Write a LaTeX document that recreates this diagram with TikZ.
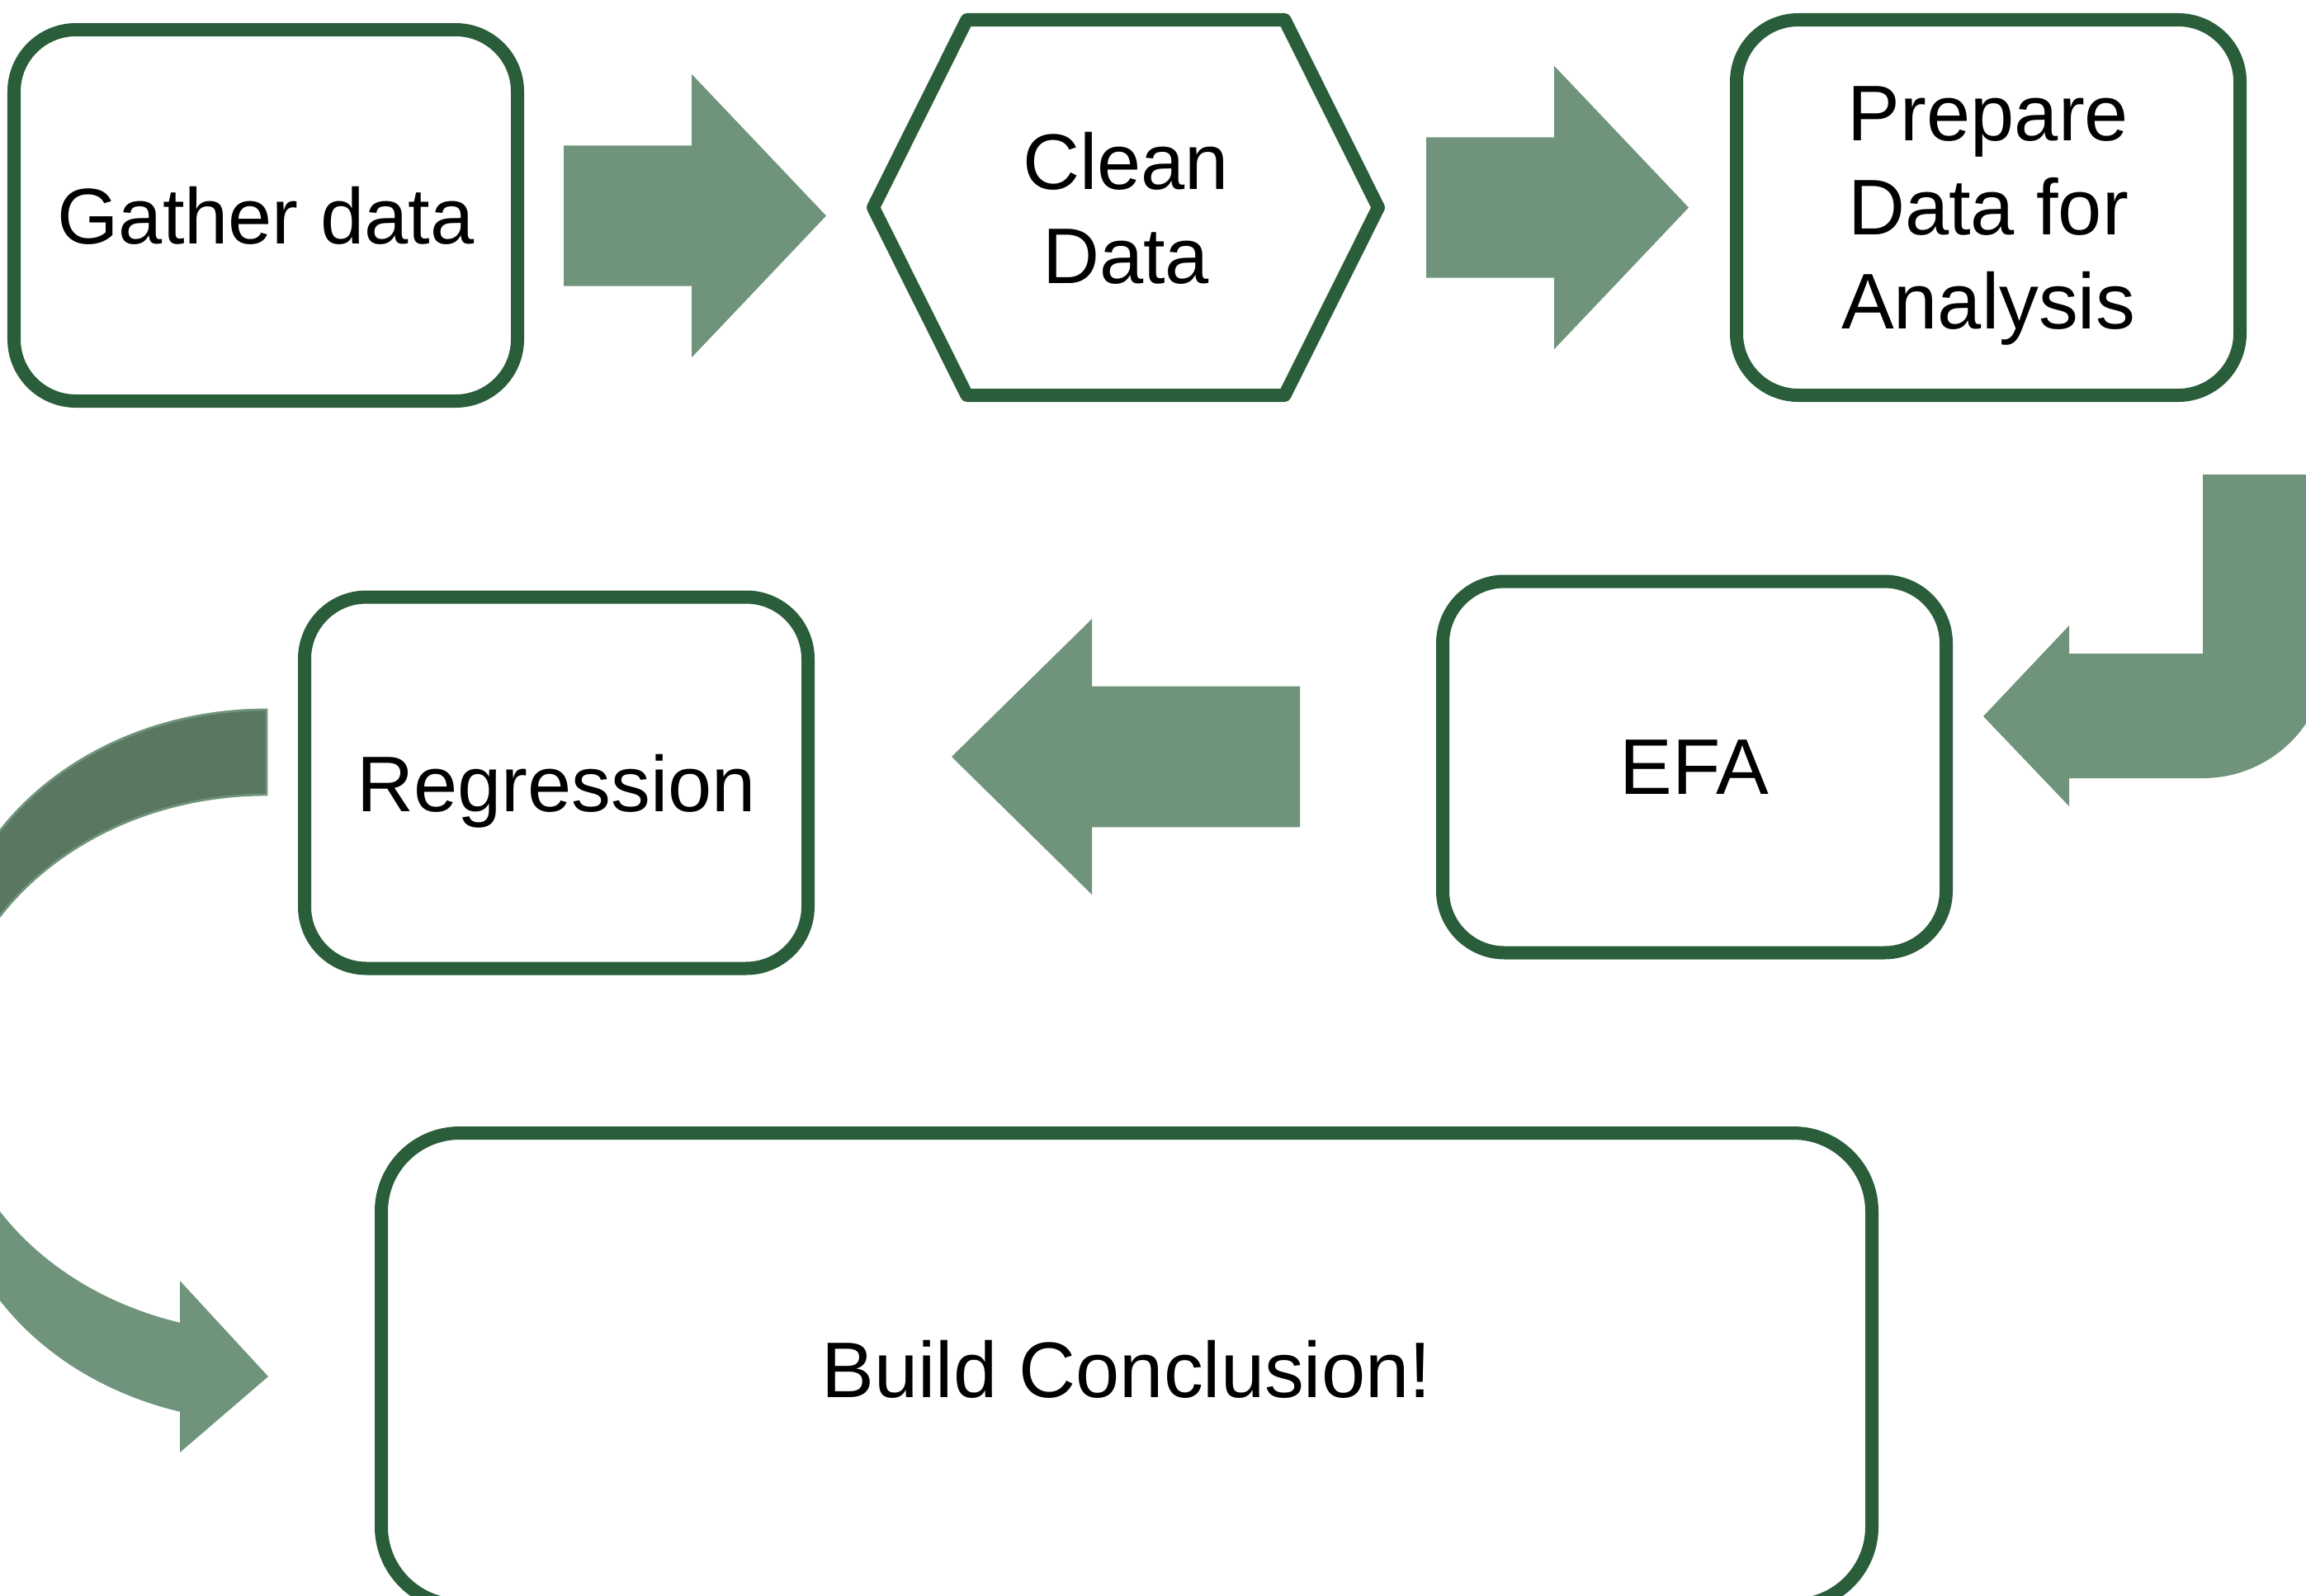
\documentclass[tikz,border=0pt]{standalone}
\definecolor{flowGreen}{HTML}{2A5E3B}
\definecolor{flowArrow}{HTML}{6F947B}
\definecolor{flowBack}{HTML}{5A7762}
\usepackage{fontspec}
\setmainfont{Liberation Sans}
\usetikzlibrary{shapes.arrows, positioning, calc}
\newcommand{\stagefont}{\fontsize{27.2}{32.4}\selectfont}

\begin{document}
\begin{tikzpicture}[
  stage/.style={draw=flowGreen, line width=0.16cm, rounded corners=0.75cm,
    minimum width=6.1cm, minimum height=4.5cm, align=center, font=\stagefont,
    text depth=0pt},
  hexbox/.style={inner sep=0pt, outer sep=0pt, minimum width=6.12cm,
    minimum height=4.55cm, align=center, font=\stagefont, text depth=0pt},
  hexline/.style={draw=flowGreen, line width=0.16cm, line join=round},
  blockarrow/.style={single arrow, fill=flowArrow, inner xsep=0pt, inner ysep=0.845cm,
    outer sep=0pt, anchor=tail, minimum width=3.42cm, minimum height=3.18cm,
    single arrow head extend=0.865cm, single arrow tip angle=93}]
  \useasboundingbox (0,0) rectangle (27.94,-19.34);

  % steps of the analysis
  \node[stage] (gather) at (3.22,-2.61) {Gather data};
  \node[hexbox] (clean) at (13.64,-2.515) {Clean\\Data};
  \node[stage, minimum height=4.55cm] (prepare) at (24.09,-2.515) {Prepare\\Data for\\Analysis};
  \node[stage] (efa) at (20.53,-9.295) {EFA};
  \node[stage] (regr) at (6.74,-9.485) {Regression};
  \node[stage, minimum width=18.06cm, minimum height=5.72cm, rounded corners=0.95cm]
    (build) at (13.65,-16.59) {Build Conclusion!};
  \draw[hexline] (clean.west) -- ([xshift=1.135cm]clean.north west)
    -- ([xshift=-1.135cm]clean.north east) -- (clean.east)
    -- ([xshift=-1.135cm]clean.south east) -- ([xshift=1.135cm]clean.south west) -- cycle;

  % straight arrows
  \node[blockarrow] (a1) at (6.83,-2.615) {};
  \node[blockarrow] (a2) at (17.28,-2.515) {};
  \node[blockarrow, shape border rotate=180, inner ysep=0.8475cm, minimum width=3.33cm,
    minimum height=4.22cm, single arrow head extend=0.8175cm, single arrow tip angle=89]
    (a3) at (15.75,-9.17) {};

  % bent arrow from Prepare down to EFA
  \coordinate (bendtop) at (26.69,-5.75);
  \fill[flowArrow] (bendtop) -- ++(1.51,0) -- (28.20,-7.92)
    arc[start angle=0, end angle=-90, radius=1.51] -- (25.07,-9.43) -- (25.07,-9.77)
    -- (24.03,-8.68) -- (25.07,-7.58) -- (25.07,-7.92) -- (26.69,-7.92) -- cycle;

  % curved arrow from Regression round to the conclusion
  \coordinate (curvetop) at (3.23,-8.60);
  \coordinate (curveleft) at (-0.635,-12.89);
  \filldraw[fill=flowBack, draw=flowArrow, line width=0.8pt] (curvetop)
    arc[start angle=90, end angle=180, x radius=3.865, y radius=3.26]
    -- (curveleft) arc[start angle=180, end angle=90, x radius=3.865, y radius=3.26] -- cycle;
  \fill[flowArrow] (curveleft) arc[start angle=180, end angle=254.24, x radius=3.865, y radius=3.26]
    -- (2.18,-15.52) -- (3.25,-16.68) -- (2.18,-17.60) -- (2.18,-17.107)
    arc[start angle=254.24, end angle=180, x radius=3.865, y radius=3.26] -- cycle;
\end{tikzpicture}
\end{document}
